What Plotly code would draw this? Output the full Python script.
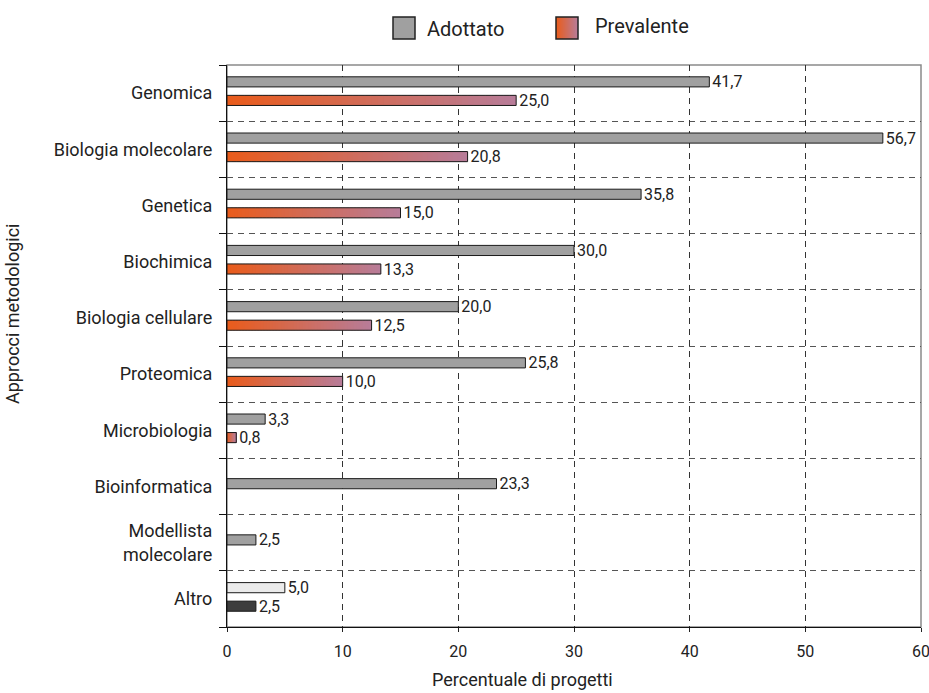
import plotly.graph_objects as go

# Approcci metodologici nei progetti: percentuale adottato / prevalente
categories = [
    "Genomica",
    "Biologia molecolare",
    "Genetica",
    "Biochimica",
    "Biologia cellulare",
    "Proteomica",
    "Microbiologia",
    "Bioinformatica",
    "Modellista<br>molecolare",
    "Altro",
]
adottato = [41.7, 56.7, 35.8, 30.0, 20.0, 25.8, 3.3, 23.3, 2.5, 5.0]
prevalente = [25.0, 20.8, 15.0, 13.3, 12.5, 10.0, 0.8, None, None, 2.5]
x_ticks = [0, 10, 20, 30, 40, 50, 60]
series_names = ["Adottato", "Prevalente"]

# styling
FONT = "Roboto, 'Open Sans', sans-serif"
GRAY = "#a0a0a0"
ALTRO_LIGHT = "#ebebeb"
ALTRO_DARK = "#3d3d3d"
GRAD_START = (233, 92, 28)
GRAD_END = (184, 124, 152)
OUTLINE = "#1a1a1a"
BAR_W = 0.18
N_SEG = 48

W, H = 929, 693
M_L, M_R, M_T, M_B = 227, 8, 65, 66
PW, PH = W - M_L - M_R, H - M_T - M_B


def px_x(px):
    return (px - M_L) / PW


def px_y(py):
    return (H - M_B - py) / PH


def grad(t):
    r, g, b = (round(a + (c - a) * t) for a, c in zip(GRAD_START, GRAD_END))
    return f"rgb({r},{g},{b})"


def fmt(v):
    return f"{v:.1f}".replace(".", ",")


n = len(categories)
last = n - 1  # "Altro" uses plain grey fills

# vertical position of each bar inside its category band
y_ad, y_pr = [], []
for i in range(n):
    if prevalente[i] is None:
        y_ad.append(i - 0.05)
        y_pr.append(None)
    else:
        y_ad.append(i - 0.2)
        y_pr.append(i + 0.13)

fig = go.Figure()

# Adottato bars
fig.add_trace(go.Bar(
    orientation="h",
    y=y_ad,
    x=adottato,
    width=BAR_W,
    marker=dict(
        color=[ALTRO_LIGHT if i == last else GRAY for i in range(n)],
        line=dict(color=OUTLINE, width=1),
    ),
    text=[fmt(v) for v in adottato],
    textposition="outside",
    textfont=dict(family=FONT, size=16, color="#222"),
    constraintext="none",
    cliponaxis=False,
    showlegend=False,
    name=series_names[0],
))

# Prevalente gradient fill built from thin stacked slices
seg_y, seg_x, seg_base, seg_col = [], [], [], []
for i in range(n):
    v = prevalente[i]
    if v is None or i == last:
        continue
    step = v / N_SEG
    for k in range(N_SEG):
        base = step * k
        seg_y.append(y_pr[i])
        seg_base.append(base)
        seg_x.append(min(step * 1.8, v - base))
        seg_col.append(grad(k / (N_SEG - 1)))

fig.add_trace(go.Bar(
    orientation="h",
    y=seg_y,
    x=seg_x,
    base=seg_base,
    width=BAR_W,
    marker=dict(color=seg_col, line=dict(width=0)),
    showlegend=False,
    hoverinfo="skip",
))

# Prevalente outlines and labels
pr_idx = [i for i in range(n) if prevalente[i] is not None]
fig.add_trace(go.Bar(
    orientation="h",
    y=[y_pr[i] for i in pr_idx],
    x=[prevalente[i] for i in pr_idx],
    width=BAR_W,
    marker=dict(
        color=[ALTRO_DARK if i == last else "rgba(0,0,0,0)" for i in pr_idx],
        line=dict(color=OUTLINE, width=1),
    ),
    text=[fmt(prevalente[i]) for i in pr_idx],
    textposition="outside",
    textfont=dict(family=FONT, size=16, color="#222"),
    constraintext="none",
    cliponaxis=False,
    showlegend=False,
    name=series_names[1],
))

shapes = [
    # plot frame
    dict(type="rect", xref="paper", yref="paper", x0=0, x1=1, y0=0, y1=1,
         line=dict(color="#8a8a8a", width=1.5), layer="below"),
]
annotations = []

# legend: grey swatch, gradient swatch (pixel positions of swatch and text)
SW = 22
lg = [(393, 17, 425, 28.5, series_names[0]), (556, 17, 593, 26.5, series_names[1])]
x0, y0 = lg[0][0], lg[0][1]
shapes.append(dict(type="rect", xref="paper", yref="paper",
                   x0=px_x(x0), x1=px_x(x0 + SW), y0=px_y(y0 + SW), y1=px_y(y0),
                   fillcolor=GRAY, line=dict(color="#222", width=1.5)))
x0, y0 = lg[1][0], lg[1][1]
n_sw = 22
for k in range(n_sw):
    x_end = x0 + SW * (k + 1.6) / n_sw if k < n_sw - 1 else x0 + SW
    shapes.append(dict(type="rect", xref="paper", yref="paper",
                       x0=px_x(x0 + SW * k / n_sw), x1=px_x(x_end),
                       y0=px_y(y0 + SW), y1=px_y(y0),
                       fillcolor=grad(k / (n_sw - 1)), line=dict(width=0)))
shapes.append(dict(type="rect", xref="paper", yref="paper",
                   x0=px_x(x0), x1=px_x(x0 + SW), y0=px_y(y0 + SW), y1=px_y(y0),
                   fillcolor="rgba(0,0,0,0)", line=dict(color="#222", width=1.5)))
for _, _, tx, ty, label in lg:
    annotations.append(dict(
        xref="paper", yref="paper", x=px_x(tx), y=px_y(ty),
        text=label, showarrow=False, xanchor="left", yanchor="middle",
        font=dict(family=FONT, size=20, color="#222"),
    ))

# axis titles
annotations.append(dict(
    xref="paper", yref="paper", x=px_x(12), y=px_y(314),
    text="Approcci metodologici", textangle=-90, showarrow=False,
    xanchor="center", yanchor="middle",
    font=dict(family=FONT, size=18, color="#222"),
))
annotations.append(dict(
    xref="paper", yref="paper", x=px_x(522), y=px_y(679),
    text="Percentuale di progetti", showarrow=False,
    xanchor="center", yanchor="middle",
    font=dict(family=FONT, size=18, color="#222"),
))

fig.update_layout(
    width=W, height=H,
    margin=dict(l=M_L, r=M_R, t=M_T, b=M_B, autoexpand=False),
    paper_bgcolor="white", plot_bgcolor="white",
    barmode="overlay",
    font=dict(family=FONT, color="#222"),
    shapes=shapes,
    annotations=annotations,
    showlegend=False,
)

fig.update_xaxes(
    range=[0, 60],
    tickvals=x_ticks,
    ticktext=[str(t) for t in x_ticks],
    ticks="outside", ticklen=4, tickcolor="#222",
    tickfont=dict(family=FONT, size=16, color="#222"),
    ticklabelstandoff=6,
    ticklabeloverflow="allow",
    automargin=False,
    showline=True, linecolor="#111", linewidth=1.2,
    showgrid=True, gridcolor="#333", gridwidth=1, griddash="6px,5px",
    zeroline=False,
)

fig.update_yaxes(
    range=[n - 0.5, -0.5],
    tickvals=list(range(n)),
    ticktext=categories,
    ticks="",
    tickfont=dict(family=FONT, size=18, color="#222"),
    ticklabelstandoff=10,
    automargin=False,
    showline=True, linecolor="#111", linewidth=1.2,
    showgrid=False,
    zeroline=False,
    minor=dict(
        tick0=0.5, dtick=1, ticks="outside", ticklen=7, tickcolor="#111",
        showgrid=True, gridcolor="#555", gridwidth=1, griddash="6px,5px",
    ),
)

fig.write_html("out.html")
